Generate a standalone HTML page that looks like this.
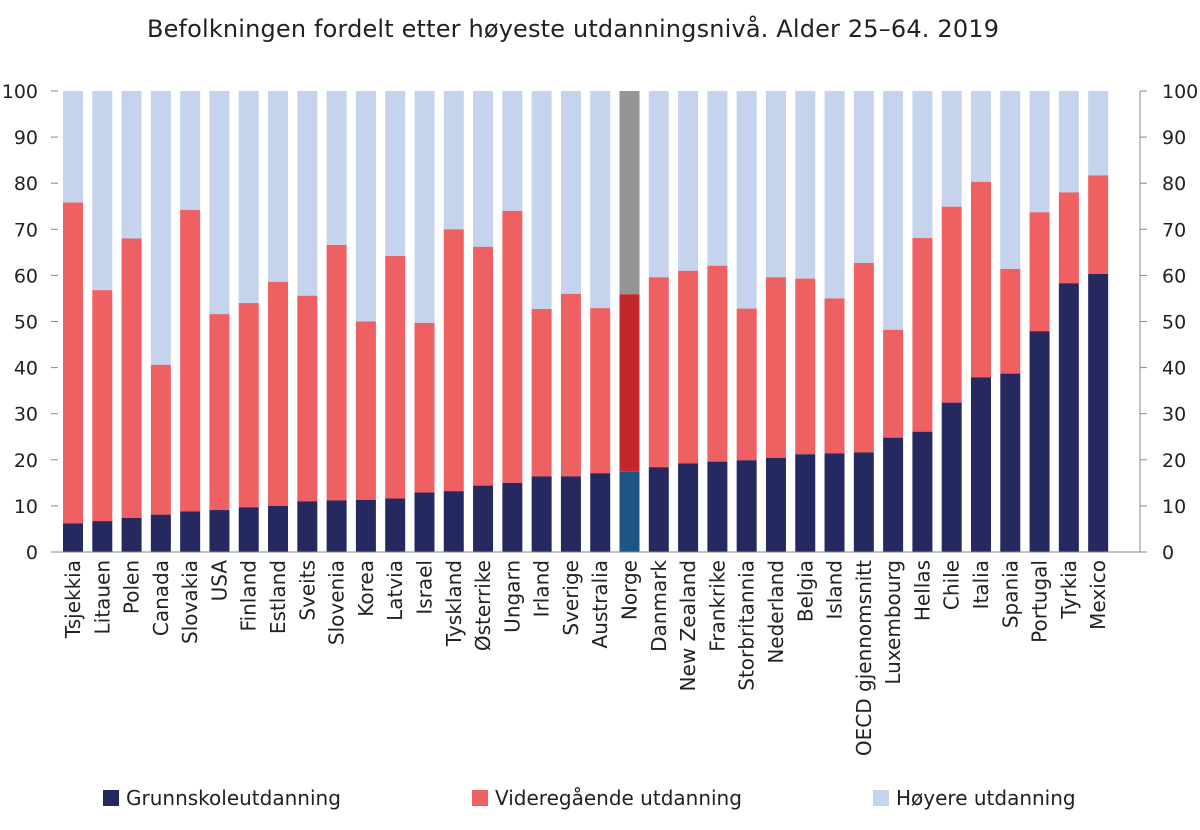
<!DOCTYPE html>
<html><head><meta charset="utf-8"><style>
body{margin:0;background:#fff;font-family:"DejaVu Sans",sans-serif}
svg text{font-family:"DejaVu Sans",sans-serif;fill:#222}
</style></head><body>
<svg id="c" width="1200" height="826">
<text x="573" y="37" font-size="24" text-anchor="middle" textLength="852">Befolkningen fordelt etter høyeste utdanningsnivå. Alder 25–64. 2019</text>
</svg>
<script>
const categories=["Tsjekkia","Litauen","Polen","Canada","Slovakia","USA","Finland","Estland","Sveits","Slovenia","Korea","Latvia","Israel","Tyskland","Østerrike","Ungarn","Irland","Sverige","Australia","Norge","Danmark","New Zealand","Frankrike","Storbritannia","Nederland","Belgia","Island","OECD gjennomsnitt","Luxembourg","Hellas","Chile","Italia","Spania","Portugal","Tyrkia","Mexico"];
const grunnskole=[6.2,6.7,7.4,8.1,8.8,9.1,9.7,10,11,11.2,11.3,11.6,12.9,13.2,14.4,15,16.4,16.4,17.1,17.4,18.4,19.2,19.6,19.9,20.4,21.2,21.4,21.6,24.8,26.1,32.4,37.9,38.7,47.9,58.3,60.3];
const videregaende=[69.6,50.1,60.6,32.5,65.4,42.5,44.3,48.6,44.6,55.4,38.7,52.6,36.8,56.8,51.8,59,36.3,39.6,35.8,38.5,41.2,41.8,42.5,32.9,39.2,38.1,33.6,41.1,23.4,42,42.5,42.4,22.7,25.8,19.7,21.4];
const ticks=[0,10,20,30,40,50,60,70,80,90,100];
const svg=document.getElementById('c');const NS='http://www.w3.org/2000/svg';
const y0=552,y1=91,xL=58,xR=1140;
const y=v=>y0-(y0-y1)*v/100;
const x=i=>73+i*29.29;
function mk(t,a,p){const e=document.createElementNS(NS,t);for(const k in a)e.setAttribute(k,a[k]);(p||svg).appendChild(e);return e;}
ticks.forEach(t=>{
 let e=mk('text',{x:38,y:y(t)+7,'font-size':19,'text-anchor':'end'});e.textContent=t;
 
 
 e=mk('text',{x:1162,y:y(t)+7,'font-size':19});e.textContent=t;
 
 
 mk('line',{x1:1140,x2:1147,y1:y(t),y2:y(t),stroke:'#888'});
 mk('line',{x1:51,x2:58,y1:y(t),y2:y(t),stroke:'#888'});
});
mk('line',{x1:1140,x2:1140,y1:y1,y2:y0,stroke:'#888'});
categories.forEach((c,i)=>{
 const n=c==="Norge";const g=grunnskole[i],v=videregaende[i];
 const cols=n?['#1f5486','#c4262e','#959595']:['#262960','#ef6063','#c5d3ec'];
 const bx=x(i)-10;
 let r=mk('rect',{x:bx,y:y(100),width:20,height:y(g+v)-y(100),fill:cols[2]});
 
 
 r=mk('rect',{x:bx,y:y(g+v),width:20,height:y(g)-y(g+v),fill:cols[1]});
 
 
 r=mk('rect',{x:bx,y:y(g),width:20,height:y0-y(g),fill:cols[0]});
 
 
 const t=mk('text',{x:0,y:0,'font-size':20,'text-anchor':'end',transform:`translate(${x(i)+7},560) rotate(-90)`});
 t.textContent=c;
 
 
});
mk('line',{x1:51,x2:1147,y1:y0,y2:y0,stroke:'#888'});
const leg=[['Grunnskoleutdanning','#262960',103],['Videregående utdanning','#ef6063',472],['Høyere utdanning','#c5d3ec',873]];
leg.forEach((l,i)=>{
 const r=mk('rect',{x:l[2],y:790,width:16,height:16,fill:l[1]});
 
 
 const t=mk('text',{x:l[2]+23,y:805,'font-size':20});t.textContent=l[0];
 
 
});
</script>
</body></html>
